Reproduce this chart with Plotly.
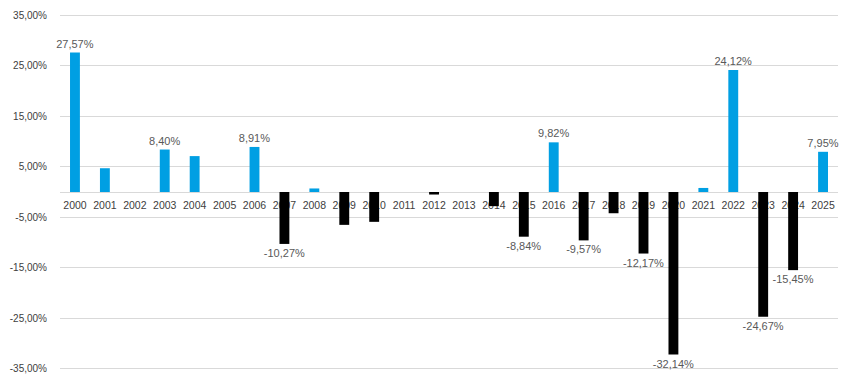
import plotly.graph_objects as go

years = [str(y) for y in range(2000, 2026)]
returns = [27.57, 4.7, 0.0, 8.40, 7.1, 0.0, 8.91, -10.27, 0.7, -6.5, -5.9, 0.0, -0.5, 0.0,
           -2.8, -8.84, 9.82, -9.57, -4.2, -12.17, -32.14, 0.8, 24.12, -24.67, -15.45, 7.95]
labeled_years = ["2000", "2003", "2006", "2007", "2015", "2016", "2017", "2019", "2020",
                 "2022", "2023", "2024", "2025"]
y_ticks = [-35, -25, -15, -5, 5, 15, 25, 35]

POS_COLOR = "#009FE3"
NEG_COLOR = "#000000"

def fmt(v):
    s = f"{abs(v):.2f}".replace(".", ",")
    return ("-" if v < 0 else "") + s + "%"

texts = [fmt(v) if y in labeled_years else "" for y, v in zip(years, returns)]
colors = [POS_COLOR if v >= 0 else NEG_COLOR for v in returns]

fig = go.Figure(go.Bar(
    x=years, y=returns, width=0.33,
    marker=dict(color=colors, line=dict(width=0)),
    text=texts, textposition="outside", cliponaxis=False, constraintext="none",
    textfont=dict(family="Liberation Sans, Arial, sans-serif", size=11, color="#595959"),
))

# page body has an 8px margin, so the figure is 8px smaller than the window
fig.update_layout(
    width=842, height=374,
    margin=dict(l=52, r=12, t=6, b=12),
    paper_bgcolor="white", plot_bgcolor="white",
    showlegend=False,
    font=dict(family="Liberation Sans, Arial, sans-serif", size=11, color="#404040"),
    xaxis=dict(type="category", anchor="free", position=0.5, side="bottom",
               showline=False, ticks="", showgrid=False, layer="below traces",
               automargin=False,
               tickfont=dict(size=10.5, color="#404040"), ticklabelstandoff=5),
    yaxis=dict(range=[-35.2, 35.2], tickvals=y_ticks, ticktext=[fmt(v) for v in y_ticks],
               showgrid=True, gridcolor="#D9D9D9", gridwidth=1,
               zeroline=True, zerolinecolor="#D9D9D9", zerolinewidth=1,
               showline=False, ticks="", ticklabelstandoff=12, automargin=False,
               tickfont=dict(size=10, color="#404040")),
    bargap=0.67,
)

fig.write_html("out.html")
